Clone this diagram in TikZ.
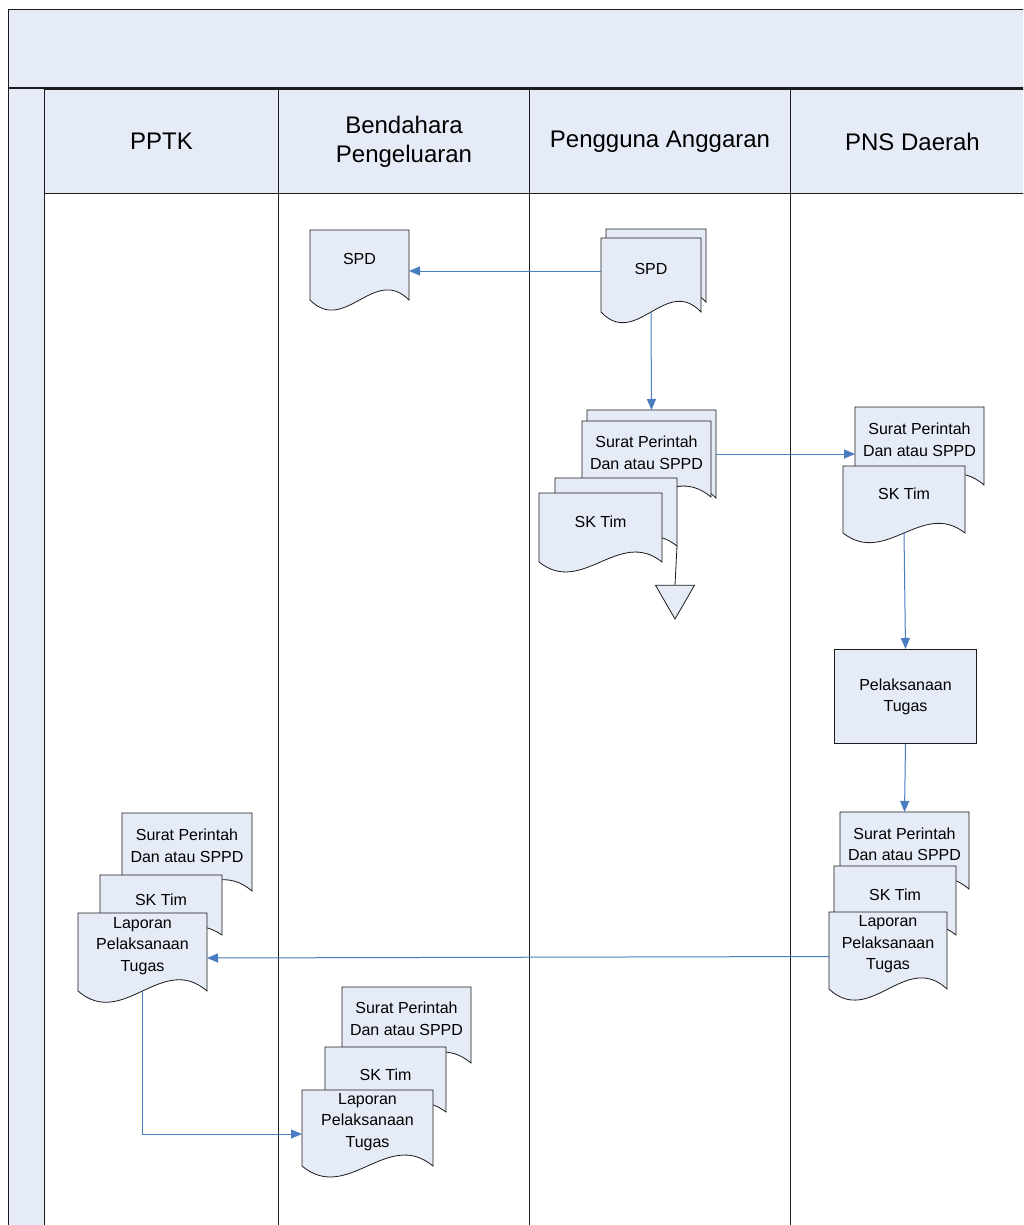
\documentclass[tikz,border=0pt]{standalone}
\usepackage{fontspec}
\setmainfont{Liberation Sans}
\usetikzlibrary{arrows.meta,shapes.geometric,calc}

\definecolor{paleblue}{HTML}{E6ECF7}
\definecolor{flowblue}{HTML}{4A7CC0}
\definecolor{edgegray}{HTML}{1A1A1A}

\tikzset{
  lanefill/.style={fill=paleblue, draw=edgegray, line width=1pt},
  laneline/.style={draw=edgegray, line width=1pt},
  lanehead/.style={lanefill, font=\fontsize{24}{29}\selectfont, align=center,
    inner sep=0pt, anchor=north west},
  doctext/.style={font=\fontsize{16}{21.5}\selectfont, align=center, inner sep=0pt},
  docbody/.style={draw=none, inner sep=0pt, outer sep=0pt, rectangle, anchor=north west},
  docline/.style={fill=paleblue, draw=edgegray, line width=0.8pt},
  procbox/.style={fill=paleblue, draw=edgegray, line width=1pt, anchor=north west,
    font=\fontsize{16}{21}\selectfont, align=center, inner sep=0pt},
  flow/.style={draw=flowblue, line width=1pt, -{Triangle[length=11pt,width=9pt]}},
  plainline/.style={draw=edgegray, line width=0.8pt},
}

% document sheet with a wavy lower edge: name, x, y, width, height
\newcommand\docsheet[5]{%
  \node[docbody, minimum width=#4pt, minimum height=#5pt] (#1) at (#2,#3) {};
  \path[docline] (#2,#3) -- ({#2+#4},#3) -- ({#2+#4},{#3+#5})
    .. controls ({#2+0.65*#4},{#3+0.5*#5}) and ({#2+0.35*#4},{#3+1.5*#5}) ..
    (#2,{#3+#5}) -- cycle;
}
% document sheet carrying a caption: name, x, y, width, height, text
\newcommand\docshape[6]{%
  \docsheet{#1}{#2}{#3}{#4}{#5}
  \node[doctext] (#1-label) at ({#2+0.5*#4},{#3+0.42*#5}) {#6};
}

\begin{document}
\begin{tikzpicture}[x=1pt,y=-1pt]
\useasboundingbox (0,0) rectangle (1023,1225);
\clip (0,0) rectangle (1023,1225);
\fill[white] (0,0) rectangle (1023,1225);

% pool title bar and side strip
\draw[lanefill] (8,10) rectangle (1045,88);
\draw[lanefill, line width=1.6pt] (8,89) -- (1045,89);
\draw[lanefill] (8,89) rectangle (44,1240);

% lane headers
\node[lanehead, minimum width=234pt, minimum height=104pt] (hPPTK) at (44,89) {PPTK};
\node[lanehead, minimum width=251pt, minimum height=104pt] (hBend) at (278,89) {Bendahara\\Pengeluaran};
\node[lanehead, minimum width=261pt, minimum height=104pt] (hPA) at (529,89) {Pengguna Anggaran};
\node[lanehead, minimum width=244pt, minimum height=104pt] (hPNS) at (790,89) {PNS Daerah};

% lane bodies
\draw[laneline] (44,193) rectangle (278,1240);
\draw[laneline] (278,193) rectangle (529,1240);
\draw[laneline] (529,193) rectangle (790,1240);
\draw[laneline] (790,193) rectangle (1045,1240);

% Bendahara Pengeluaran: SPD
\docshape{spdB}{310}{230}{99}{70}{SPD}

% Pengguna Anggaran: SPD (multiple copies)
\docsheet{spdPback}{606}{229}{100}{73}
\docshape{spdP}{601}{238}{100}{74}{SPD}

% Pengguna Anggaran: Surat Perintah and SK Tim (multiple copies)
\docsheet{spPback}{587}{410}{129}{88}
\docshape{spP}{582}{421}{129}{76}{Surat Perintah\\Dan atau SPPD}
\docsheet{skPback}{555}{478}{122}{68}
\docshape{skP}{539}{493}{123}{69}{SK Tim}

% off-page marker
\node[draw=edgegray, fill=paleblue, line width=0.8pt, regular polygon,
  regular polygon sides=3, shape border rotate=180, minimum size=45pt,
  inner sep=0pt] (merge) at (675,596.5) {};

% PNS Daerah: received documents
\docshape{spN}{855}{407}{129}{78}{Surat Perintah\\Dan atau SPPD}
\docshape{skN}{843}{466}{122}{67}{SK Tim}

% PNS Daerah: task execution
\node[procbox, minimum width=142pt, minimum height=94pt] (pel) at (834,649) {Pelaksanaan\\Tugas};

% PNS Daerah: report bundle
\docshape{spN2}{840}{812}{129}{77}{Surat Perintah\\Dan atau SPPD}
\docshape{skN2}{834}{866}{122}{69}{SK Tim}
\docshape{lapN}{829}{912}{118}{77}{Laporan\\Pelaksanaan\\Tugas}

% PPTK: report bundle
\docshape{spK}{122}{813}{130}{78}{Surat Perintah\\Dan atau SPPD}
\docshape{skK}{100}{875}{122}{60}{SK Tim}
\docshape{lapK}{78}{913}{129}{78}{Laporan\\Pelaksanaan\\Tugas}

% Bendahara Pengeluaran: report bundle
\docshape{spB}{342}{987}{129}{76}{Surat Perintah\\Dan atau SPPD}
\docshape{skB}{325}{1047}{121}{65}{SK Tim}
\docshape{lapB}{302}{1090}{131}{76}{Laporan\\Pelaksanaan\\Tugas}

% flows
\draw[flow] ([yshift=4pt]spdP.west) -- ([yshift=4pt]spdP.west -| spdB.east);
\draw[flow] (spdP.south) -- (spPback.north);
\draw[flow] (spPback.east) -- (spPback.east -| spN.west);
\draw[plainline] (skPback.south east) -- (merge.north);
\draw[flow] (skN.south) -- (pel.north);
\draw[flow] (pel.south) -- (spN2.north);
\draw[flow] ([yshift=-6pt]lapN.west) -- ([yshift=-6pt]lapK.east);
\draw[flow] (lapK.south) |- ([yshift=-6pt]lapB.west);
\end{tikzpicture}
\end{document}
